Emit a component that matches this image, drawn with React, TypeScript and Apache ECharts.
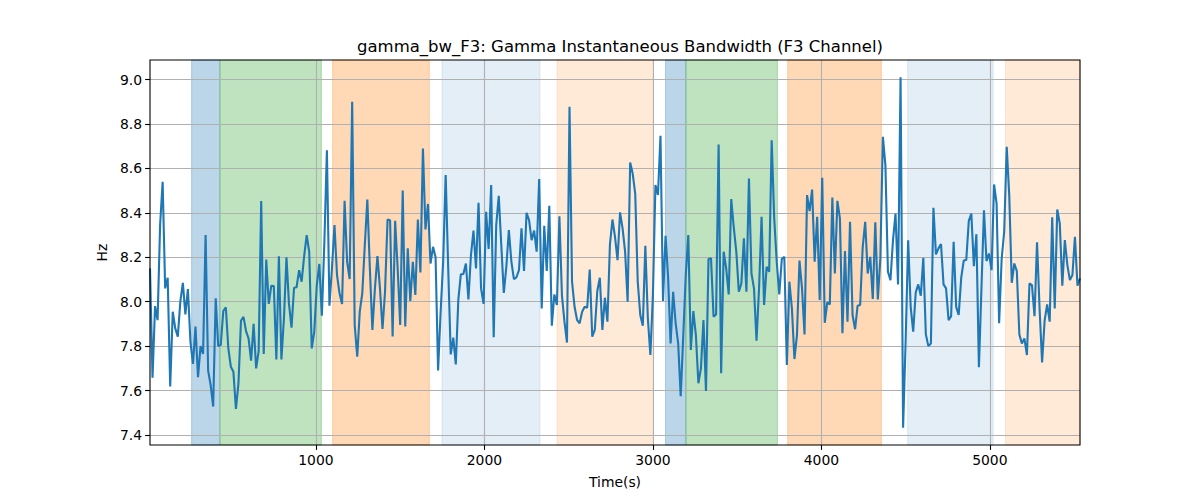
import React, { useEffect, useRef } from "react";
import * as echarts from "echarts";

const TITLE = "gamma_bw_F3: Gamma Instantaneous Bandwidth (F3 Channel)";
const X_NAME = "Time(s)";
const Y_NAME = "Hz";

const T_START = 15;
const T_STEP = 15;

const X_TICKS = [1000, 2000, 3000, 4000, 5000];
const Y_TICKS = [7.4, 7.6, 7.8, 8.0, 8.2, 8.4, 8.6, 8.8, 9.0];
const X_MIN = 15;
const X_MAX = 5535;
const Y_MIN = 7.355;
const Y_MAX = 9.088;

const VALUES = [
  8.15, 7.658, 7.98, 7.917, 8.345, 8.54, 8.06, 8.108, 7.618, 7.955, 7.88,
  7.843, 8.0, 8.085, 7.943, 8.057, 7.82, 7.72, 7.888, 7.66, 7.8,
  7.765, 8.3, 7.69, 7.625, 7.528, 8.015, 7.8, 7.805, 7.958, 7.975,
  7.79, 7.707, 7.685, 7.517, 7.632, 7.914, 7.932, 7.868, 7.835, 7.735,
  7.9, 7.7, 7.778, 8.453, 7.765, 8.19, 7.99, 8.072, 8.07, 7.74,
  8.205, 7.74, 7.925, 8.2, 7.99, 7.883, 8.063, 8.065, 8.142, 8.09,
  8.205, 8.3, 8.225, 7.79, 7.865, 8.075, 8.17, 7.937, 8.27, 8.682,
  7.982, 8.15, 8.345, 8.12, 8.038, 7.99, 8.454, 8.18, 8.102, 8.9,
  7.895, 7.753, 7.955, 8.038, 8.255, 8.46, 8.15, 7.873, 8.06, 8.205,
  8.06, 7.877, 8.045, 8.37, 8.367, 7.843, 8.364, 8.15, 7.895, 8.5,
  7.888, 8.24, 8.003, 8.18, 8.03, 8.37, 8.132, 8.69, 8.325, 8.44,
  8.172, 8.247, 8.2, 7.69, 7.955, 8.18, 8.57, 8.15, 7.763, 7.838,
  7.718, 8.008, 8.123, 8.125, 8.172, 8.01, 8.21, 8.32, 8.15, 8.445,
  8.06, 7.99, 8.405, 8.237, 8.525, 7.84, 8.345, 8.477, 8.255, 8.04,
  8.157, 8.322, 8.18, 8.102, 8.11, 8.142, 8.33, 8.138, 8.4, 8.367,
  8.277, 8.32, 8.225, 8.552, 7.97, 8.342, 8.138, 8.432, 7.892, 8.033,
  7.985, 8.385, 8.03, 7.91, 7.816, 8.877, 8.09, 7.977, 7.917, 7.903,
  7.955, 7.977, 7.973, 8.145, 7.843, 7.873, 8.048, 8.108, 7.873, 8.018,
  7.91, 8.258, 8.37, 8.292, 8.187, 8.402, 8.33, 8.225, 8.0, 8.627,
  8.577, 8.487, 8.09, 7.94, 7.892, 8.252, 7.925, 7.76, 8.03, 8.525,
  8.48, 8.747, 8.003, 8.297, 8.112, 7.812, 8.045, 7.903, 7.812, 7.575,
  7.843, 8.12, 8.3, 7.783, 7.958, 7.85, 7.633, 7.7, 7.917, 7.598,
  8.192, 8.195, 7.932, 7.943, 8.708, 7.678, 8.225, 8.15, 8.033, 8.462,
  8.333, 8.225, 8.045, 8.082, 8.285, 8.045, 8.555, 8.127, 8.06, 7.825,
  8.06, 8.382, 7.985, 8.157, 8.135, 8.727, 8.375, 8.18, 8.033, 8.192,
  8.202, 7.715, 8.09, 7.97, 7.742, 7.85, 8.185, 8.06, 7.853, 8.48,
  8.408, 8.505, 8.18, 8.382, 8.008, 8.558, 7.905, 7.997, 7.988, 8.469,
  8.127, 8.454, 8.375, 7.858, 8.228, 7.91, 8.36, 7.94, 7.876, 7.982,
  7.985, 8.243, 8.36, 8.127, 8.202, 8.012, 8.357, 8.01, 8.195, 8.742,
  8.615, 8.135, 8.097, 8.277, 8.397, 8.078, 9.01, 7.433, 7.82, 8.277,
  7.977, 7.865, 8.042, 8.078, 8.027, 8.198, 7.853, 7.8, 7.812, 8.423,
  8.213, 8.24, 8.26, 8.078, 8.06, 7.917, 7.935, 8.27, 7.977, 7.94,
  8.108, 8.185, 8.188, 8.364, 8.397, 8.16, 8.304, 7.705, 8.06, 8.412,
  8.183, 8.217, 8.142, 8.528, 8.442, 7.903, 8.192, 8.315, 8.697, 8.48,
  8.085, 8.172, 8.138, 7.853, 7.812, 7.835, 7.76, 8.082, 8.075, 7.935,
  8.268, 7.97, 7.727, 7.915, 7.988, 7.91, 8.38, 7.97, 8.415, 8.352,
  8.072, 8.277, 8.165, 8.097, 8.12, 8.292, 8.072, 8.105,
];

const BAND_STARTS = [262, 430, 1099, 1748, 2431, 3075, 3196, 3800, 4512, 5093];
const BAND_ENDS = [430, 1032, 1673, 2330, 3002, 3196, 3739, 4356, 5020, 5535];
const BAND_KINDS = ["blue", "green", "orange", "lightblue", "peach", "blue", "green", "orange", "lightblue", "peach"];

const BAND_COLORS: Record<string, string> = {
  blue: "rgba(31,119,180,0.3)",
  green: "rgba(44,160,44,0.3)",
  orange: "rgba(255,127,14,0.3)",
  lightblue: "rgba(31,119,180,0.12)",
  peach: "rgba(255,127,14,0.16)",
};

const FONT = "DejaVu Sans";

const GRID_LEFT = 150;
const GRID_RIGHT = 120;
const GRID_TOP = 60;
const GRID_BOTTOM = 55;
const W = 1200;
const H = 500;

export default function App() {
  const ref = useRef<HTMLDivElement>(null);

  useEffect(() => {
    if (!ref.current) return;
    const chart = echarts.init(ref.current, undefined, { renderer: "svg" });

    const times = VALUES.map((_, i) => T_START + i * T_STEP);
    const lineData = VALUES.map((v, i) => [times[i], v]);

    const bandData = BAND_STARTS.map((s, i) => [
      {
        xAxis: s,
        itemStyle: {
          color: BAND_COLORS[BAND_KINDS[i]],
          borderColor: BAND_COLORS[BAND_KINDS[i]],
          borderWidth: 1,
        },
      },
      { xAxis: BAND_ENDS[i] },
    ]);

    const gridLines = [
      ...X_TICKS.map((v) => ({ xAxis: v })),
      ...Y_TICKS.map((v) => ({ yAxis: v })),
    ];

    const option: any = {
      animation: false,
      backgroundColor: "#fff",
      title: {
        text: TITLE,
        left: 615,
        top: 33,
        textAlign: "center",
        textStyle: {
          fontFamily: FONT,
          fontSize: 16.5,
          fontWeight: "normal",
          color: "#000",
        },
      },
      grid: {
        left: GRID_LEFT,
        right: GRID_RIGHT,
        top: GRID_TOP,
        bottom: GRID_BOTTOM,
        show: false,
      },
      graphic: [
        {
          type: "rect",
          silent: true,
          z: 100,
          shape: {
            x: GRID_LEFT,
            y: GRID_TOP,
            width: W - GRID_LEFT - GRID_RIGHT,
            height: H - GRID_TOP - GRID_BOTTOM,
          },
          style: { fill: "none", stroke: "#000", lineWidth: 1.1 },
        },
      ],
      xAxis: {
        type: "value",
        min: X_MIN,
        max: X_MAX,
        name: X_NAME,
        nameLocation: "middle",
        nameGap: 30,
        nameTextStyle: { fontFamily: FONT, fontSize: 13.9, color: "#000" },
        axisLine: { show: false },
        axisTick: {
          show: true,
          inside: false,
          length: 4.9,
          customValues: X_TICKS,
          lineStyle: { color: "#000", width: 1.1 },
        },
        axisLabel: {
          customValues: X_TICKS,
          margin: 8,
          fontFamily: FONT,
          fontSize: 13.9,
          color: "#000",
          formatter: (v: number) => String(v),
        },
        splitLine: { show: false },
      },
      yAxis: {
        type: "value",
        min: Y_MIN,
        max: Y_MAX,
        name: Y_NAME,
        nameLocation: "middle",
        nameGap: 40,
        nameTextStyle: { fontFamily: FONT, fontSize: 13.9, color: "#000" },
        axisLine: { show: false },
        axisTick: {
          show: true,
          inside: false,
          length: 4.9,
          customValues: Y_TICKS,
          lineStyle: { color: "#000", width: 1.1 },
        },
        axisLabel: {
          customValues: Y_TICKS,
          margin: 8,
          fontFamily: FONT,
          fontSize: 13.9,
          color: "#000",
          formatter: (v: number) => v.toFixed(1),
        },
        splitLine: { show: false },
      },
      series: [
        {
          type: "line",
          data: [],
          silent: true,
          z: 1,
          markArea: {
            silent: true,
            z: 1,
            data: bandData,
          },
        },
        {
          type: "line",
          data: [],
          silent: true,
          z: 2,
          markLine: {
            silent: true,
            z: 2,
            symbol: ["none", "none"],
            label: { show: false },
            lineStyle: { color: "#b0b0b0", width: 1.1, type: "solid" },
            data: gridLines,
          },
        },
        {
          type: "line",
          data: lineData,
          showSymbol: false,
          silent: true,
          z: 5,
          lineStyle: { color: "#1f77b4", width: 2.1 },
          itemStyle: { color: "#1f77b4" },
        },
      ],
    };

    chart.setOption(option);
    return () => chart.dispose();
  }, []);

  return (
    <div
      ref={ref}
      style={{ position: "absolute", left: 0, top: 0, width: W, height: H }}
    />
  );
}
